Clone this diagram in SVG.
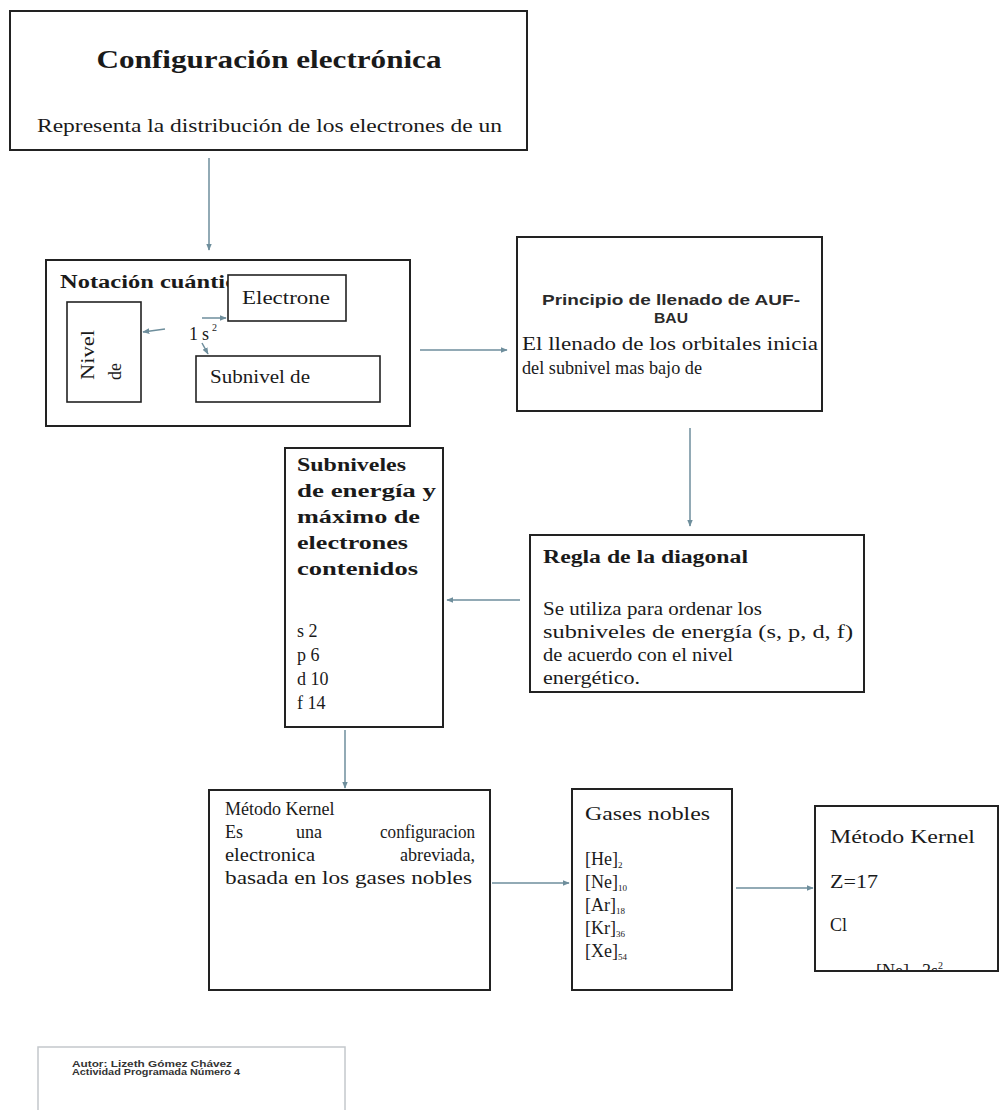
<svg xmlns="http://www.w3.org/2000/svg" width="1000" height="1110" viewBox="0 0 1000 1110">
<style>
.box{fill:#fff;stroke:#222;stroke-width:2}
.sub{fill:#fff;stroke:#222;stroke-width:1.6}
.t{font-family:"Liberation Serif","Times New Roman",serif;font-size:18px;fill:#1a1a1a}
.b{font-weight:bold}
.s{font-family:"Liberation Sans",Arial,sans-serif;font-size:14px;font-weight:bold;fill:#2a2a2a}
.f{font-family:"Liberation Sans",Arial,sans-serif;font-size:9px;font-weight:bold;fill:#333}
.c{stroke:#6e8e9c;stroke-width:1.5;fill:none}
</style>
<defs>
<marker id="ah" viewBox="0 0 10 10" refX="9" refY="5" markerWidth="7" markerHeight="7" orient="auto-start-reverse" markerUnits="userSpaceOnUse">
<path d="M0,1 L10,5 L0,9 z" fill="#6e8e9c"/>
</marker>
<clipPath id="k2clip"><rect x="816" y="807" width="182" height="163"/></clipPath>
</defs>
<rect width="1000" height="1110" fill="#fff"/>

<g id="configuracion">
<rect class="box" x="10" y="11" width="517" height="139"/>
<text class="t b" x="269" y="68" text-anchor="middle" style="font-size:26px" textLength="345" lengthAdjust="spacingAndGlyphs">Configuración electrónica</text>
<text class="t" x="37" y="132" style="font-size:19px" textLength="465" lengthAdjust="spacingAndGlyphs">Representa la distribución de los electrones de un</text>
</g>

<g id="notacion">
<rect class="box" x="46" y="260" width="364" height="166"/>
<text class="t b" x="60" y="288" textLength="176" lengthAdjust="spacingAndGlyphs">Notación cuántic</text>
</g>
<g id="electrones">
<rect class="sub" x="228" y="275" width="118" height="46"/>
<text class="t" x="242" y="304" textLength="88" lengthAdjust="spacingAndGlyphs">Electrone</text>
</g>
<g id="nivel">
<rect class="sub" x="67" y="302" width="74" height="100"/>
<text class="t" transform="translate(94,380) rotate(-90)" textLength="50" lengthAdjust="spacingAndGlyphs">Nivel</text>
<text class="t" transform="translate(121,380) rotate(-90)">de</text>
</g>
<g id="notacion-1s2">
<text class="t" x="189" y="340">1</text>
<text class="t" x="202" y="340">s</text>
<text class="t" x="212" y="331" style="font-size:10px">2</text>
</g>
<g id="subnivel">
<rect class="sub" x="196" y="356" width="184" height="46"/>
<text class="t" x="210" y="383" textLength="100" lengthAdjust="spacingAndGlyphs">Subnivel de</text>
</g>

<g id="principio">
<rect class="box" x="517" y="237" width="305" height="174"/>
<text class="s" x="671" y="305" text-anchor="middle" textLength="258" lengthAdjust="spacingAndGlyphs">Principio de llenado de AUF-</text>
<text class="s" x="671" y="323" text-anchor="middle" textLength="34" lengthAdjust="spacingAndGlyphs">BAU</text>
<text class="t" x="522" y="350" textLength="296" lengthAdjust="spacingAndGlyphs">El llenado de los orbitales inicia</text>
<text class="t" x="522" y="374" style="font-size:19px" textLength="180" lengthAdjust="spacingAndGlyphs">del subnivel mas bajo de</text>
</g>

<g id="regla">
<rect class="box" x="530" y="535" width="334" height="157"/>
<text class="t b" x="543" y="563" textLength="205" lengthAdjust="spacingAndGlyphs">Regla de la diagonal</text>
<text class="t" x="543" y="615" textLength="219" lengthAdjust="spacingAndGlyphs">Se utiliza para ordenar los</text>
<text class="t" x="543" y="638" textLength="310" lengthAdjust="spacingAndGlyphs">subniveles de energía (s, p, d, f)</text>
<text class="t" x="543" y="661" textLength="190" lengthAdjust="spacingAndGlyphs">de acuerdo con el nivel</text>
<text class="t" x="543" y="684" textLength="97" lengthAdjust="spacingAndGlyphs">energético.</text>
</g>

<g id="subniveles">
<rect class="box" x="285" y="448" width="158" height="279"/>
<text class="t b" x="297" y="471" textLength="109" lengthAdjust="spacingAndGlyphs">Subniveles</text>
<text class="t b" x="297" y="497" textLength="139" lengthAdjust="spacingAndGlyphs">de energía y</text>
<text class="t b" x="297" y="523" textLength="123" lengthAdjust="spacingAndGlyphs">máximo de</text>
<text class="t b" x="297" y="549" textLength="111" lengthAdjust="spacingAndGlyphs">electrones</text>
<text class="t b" x="297" y="575" textLength="121" lengthAdjust="spacingAndGlyphs">contenidos</text>
<text class="t" x="297" y="637">s 2</text>
<text class="t" x="297" y="661">p 6</text>
<text class="t" x="297" y="685">d 10</text>
<text class="t" x="297" y="709">f 14</text>
</g>

<g id="kernel">
<rect class="box" x="209" y="790" width="281" height="200"/>
<text class="t" x="225" y="815">Método Kernel</text>
<text class="t" x="225" y="838">Es</text>
<text class="t" x="296" y="838">una</text>
<text class="t" x="380" y="838" textLength="95" lengthAdjust="spacingAndGlyphs">configuracion</text>
<text class="t" x="225" y="861" textLength="90" lengthAdjust="spacingAndGlyphs">electronica</text>
<text class="t" x="400" y="861" textLength="75" lengthAdjust="spacingAndGlyphs">abreviada,</text>
<text class="t" x="225" y="884" textLength="247" lengthAdjust="spacingAndGlyphs">basada en los gases nobles</text>
</g>

<g id="gases">
<rect class="box" x="572" y="789" width="160" height="201"/>
<text class="t" x="585" y="820" textLength="125" lengthAdjust="spacingAndGlyphs">Gases nobles</text>
<text class="t" x="585" y="865">[He]<tspan font-size="9" dy="3">2</tspan></text>
<text class="t" x="585" y="888">[Ne]<tspan font-size="9" dy="3">10</tspan></text>
<text class="t" x="585" y="911">[Ar]<tspan font-size="9" dy="3">18</tspan></text>
<text class="t" x="585" y="934">[Kr]<tspan font-size="9" dy="3">36</tspan></text>
<text class="t" x="585" y="957">[Xe]<tspan font-size="9" dy="3">54</tspan></text>
</g>

<g id="kernel-ejemplo">
<rect class="box" x="815" y="806" width="183" height="165"/>
<text class="t" x="830" y="843" textLength="145" lengthAdjust="spacingAndGlyphs">Método Kernel</text>
<text class="t" x="830" y="888" textLength="48" lengthAdjust="spacingAndGlyphs">Z=17</text>
<text class="t" x="830" y="931">Cl</text>
<g clip-path="url(#k2clip)">
<text class="t" x="876" y="977">[Ne]</text>
<text class="t" x="922" y="977">3s<tspan font-size="10" dy="-8">2</tspan></text>
</g>
</g>

<g id="autor">
<rect x="38" y="1047" width="307" height="80" fill="#fff" stroke="#c4c8cc" stroke-width="1.5"/>
<text class="f" x="72" y="1067" textLength="160" lengthAdjust="spacingAndGlyphs">Autor: Lizeth Gómez Chávez</text>
<text class="f" x="72" y="1075" textLength="168" lengthAdjust="spacingAndGlyphs">Actividad Programada Número 4</text>
</g>

<g id="connectors">
<line class="c" x1="209" y1="158" x2="209" y2="250" marker-end="url(#ah)"/>
<line class="c" x1="420" y1="350" x2="507" y2="350" marker-end="url(#ah)"/>
<line class="c" x1="165" y1="329" x2="143" y2="332" marker-end="url(#ah)"/>
<line class="c" x1="202" y1="318" x2="226" y2="318" marker-end="url(#ah)"/>
<line class="c" x1="202" y1="343" x2="208" y2="354" marker-end="url(#ah)"/>
<line class="c" x1="690" y1="428" x2="690" y2="526" marker-end="url(#ah)"/>
<line class="c" x1="520" y1="600" x2="447" y2="600" marker-end="url(#ah)"/>
<line class="c" x1="345" y1="730" x2="345" y2="788" marker-end="url(#ah)"/>
<line class="c" x1="492" y1="883" x2="569" y2="883" marker-end="url(#ah)"/>
<line class="c" x1="736" y1="888" x2="813" y2="888" marker-end="url(#ah)"/>
</g>
</svg>
